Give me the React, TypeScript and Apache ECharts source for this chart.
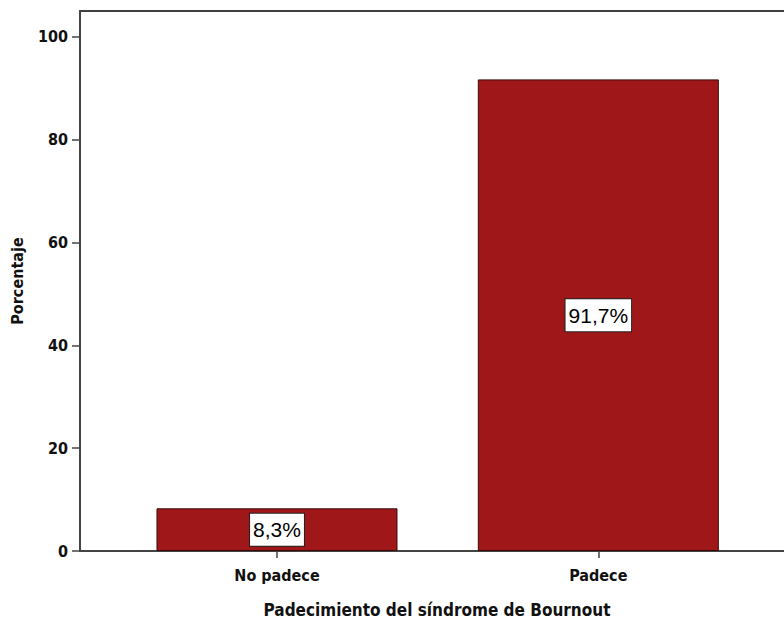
import React, { useEffect, useRef } from "react";
import * as echarts from "echarts";

const categories = ["No padece", "Padece"];
const percentages = [8.3, 91.7];
const yTicks = [0, 20, 40, 60, 80, 100];
const xTitle = "Padecimiento del síndrome de Bournout";
const yTitle = "Porcentaje";

const FONT = "'Liberation Sans Narrow', 'DejaVu Sans Condensed', 'Arial Narrow', sans-serif";

export default function App() {
  const ref = useRef<HTMLDivElement>(null);
  useEffect(() => {
    if (!ref.current) return;
    const chart = echarts.init(ref.current, null, { renderer: "svg" });
    const catIdx = categories.map((_, i) => i);
    chart.setOption({
      animation: false,
      backgroundColor: "#fff",
      grid: {
        left: 80,
        top: 11,
        bottom: 72,
        right: -10,
        outerBoundsMode: "none",
        containLabel: false,
        show: true,
        borderColor: "#000",
        borderWidth: 1.5,
        backgroundColor: "transparent",
      },
      xAxis: {
        type: "value",
        min: -0.6131,
        max: 1.609,
        splitLine: { show: false },
        axisLine: { show: true, onZero: false, lineStyle: { color: "#444", width: 2 } },
        axisTick: { show: true, length: 7, customValues: catIdx, lineStyle: { color: "#444", width: 1.5 } },
        axisLabel: {
          customValues: catIdx,
          formatter: (v: number) => categories[Math.round(v)] ?? "",
          margin: 16,
          color: "#111",
          fontFamily: FONT,
          fontWeight: "bold",
          fontSize: 16,
        },
        name: xTitle,
        nameLocation: "middle",
        nameGap: 50,
        nameTextStyle: { color: "#111", fontFamily: FONT, fontWeight: "bold", fontSize: 17 },
      },
      yAxis: {
        type: "value",
        min: 0,
        max: 105,
        splitLine: { show: false },
        axisLine: { show: true, onZero: false, lineStyle: { color: "#444", width: 2 } },
        axisTick: { show: true, length: 8, customValues: yTicks, lineStyle: { color: "#444", width: 1.5 } },
        axisLabel: {
          customValues: yTicks,
          margin: 12,
          color: "#111",
          fontFamily: FONT,
          fontWeight: "bold",
          fontSize: 16,
        },
        name: yTitle,
        nameLocation: "middle",
        nameGap: 55,
        nameRotate: 90,
        nameTextStyle: { color: "#111", fontFamily: FONT, fontWeight: "bold", fontSize: 16 },
      },
      series: [
        {
          type: "bar",
          data: percentages.map((v, i) => [i, v]),
          barWidth: 241,
          itemStyle: { color: "#A0171A", borderColor: "#3a0a0a", borderWidth: 1 },
          label: {
            show: true,
            position: "inside",
            formatter: (p: any) => String(p.value[1]).replace(".", ",") + "%",
            color: "#000",
            fontFamily: "'Liberation Sans', Arial, sans-serif",
            fontSize: 21,
            backgroundColor: "#fff",
            borderColor: "#222",
            borderWidth: 1,
            padding: [6, 3, 5, 3],
          },
        },
      ],
    });
    return () => chart.dispose();
  }, []);
  return (
    <div
      ref={ref}
      style={{ position: "fixed", left: 0, top: 0, width: 784, height: 623, background: "#fff" }}
    />
  );
}
